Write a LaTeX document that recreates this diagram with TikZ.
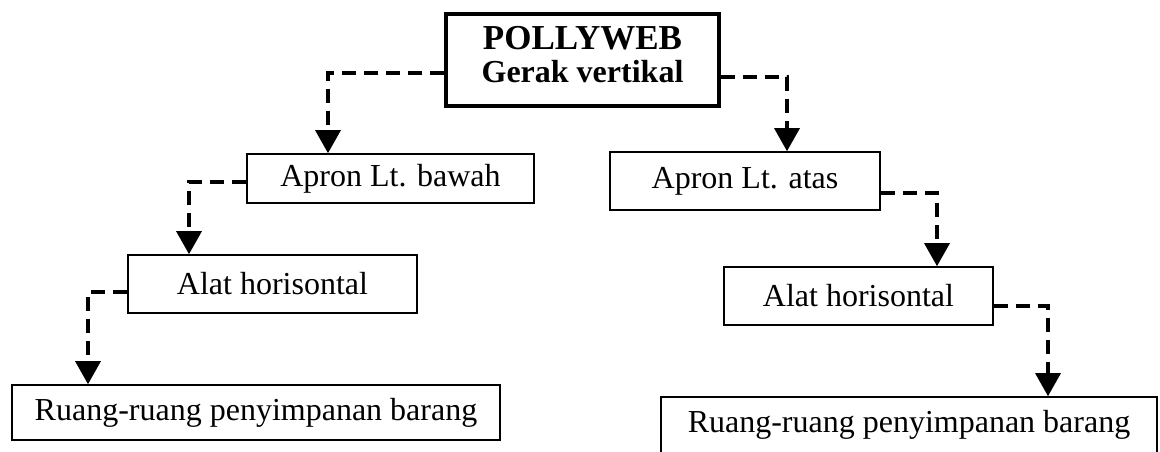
\documentclass[tikz,border=0pt]{standalone}
\usepackage{fontspec}
\setmainfont{Liberation Serif}
\usetikzlibrary{arrows.meta,calc}
\begin{document}
\begin{tikzpicture}[x=0.5pt,y=-0.5pt,
  box/.style={draw,line width=0.8pt,inner sep=0pt,font=\fontsize{16}{19}\selectfont},
  headbox/.style={draw,line width=1.6pt,inner sep=0pt},
  headtext/.style={align=center,font=\bfseries\fontsize{16}{16.5}\selectfont},
  flow/.style={line width=1.6pt,dash pattern=on 7pt off 4pt,
    -{Triangle[width=12.5pt,length=11.5pt]}}]
\useasboundingbox[fill=white] (0,0) rectangle (1160,451);

% top-level unit
\node[headbox,minimum width=136.5pt,minimum height=46pt,
  label={[name=toptext,headtext,yshift=2.5pt]center:
    {\fontsize{17.5}{16.5}\selectfont POLLYWEB}\\
    Gerak vertikal}]
  (top) at (582.5,60) {};

% left branch
\node[box,minimum width=143.5pt,minimum height=24.5pt] (abaw) at (390.5,178.5) {Apron Lt. bawah};
\node[box,minimum width=144.5pt,minimum height=29pt] (lhor) at (272.5,284) {Alat horisontal};
\node[box,minimum width=244pt,minimum height=27.5pt] (lru) at (256,412.5) {Ruang-ruang penyimpanan barang};

% right branch
\node[box,minimum width=135pt,minimum height=29pt] (aatas) at (745,181) {Apron Lt. atas};
\node[box,minimum width=134.5pt,minimum height=29pt] (rhor) at (858.5,296) {Alat horisontal};
\node[box,minimum width=248pt,minimum height=28pt] (rru) at (909,425) {Ruang-ruang penyimpanan barang};

% connectors
\draw[flow] ($(top.west)+(0,13)$) -| ($(abaw.north)+(-62.5,0)$);
\draw[flow] ($(top.east)+(0,17)$) -| ($(aatas.north)+(42,0)$);
\draw[flow] ($(abaw.west)+(0,3.5)$) -| ($(lhor.north)+(-83.5,0)$);
\draw[flow] ($(lhor.west)+(0,8)$) -| ($(lru.north)+(-168,0)$);
\draw[flow] ($(aatas.east)+(0,12)$) -| ($(rhor.north)+(78.5,0)$);
\draw[flow] ($(rhor.east)+(0,10)$) -| ($(rru.north)+(139,0)$);
\end{tikzpicture}
\end{document}
